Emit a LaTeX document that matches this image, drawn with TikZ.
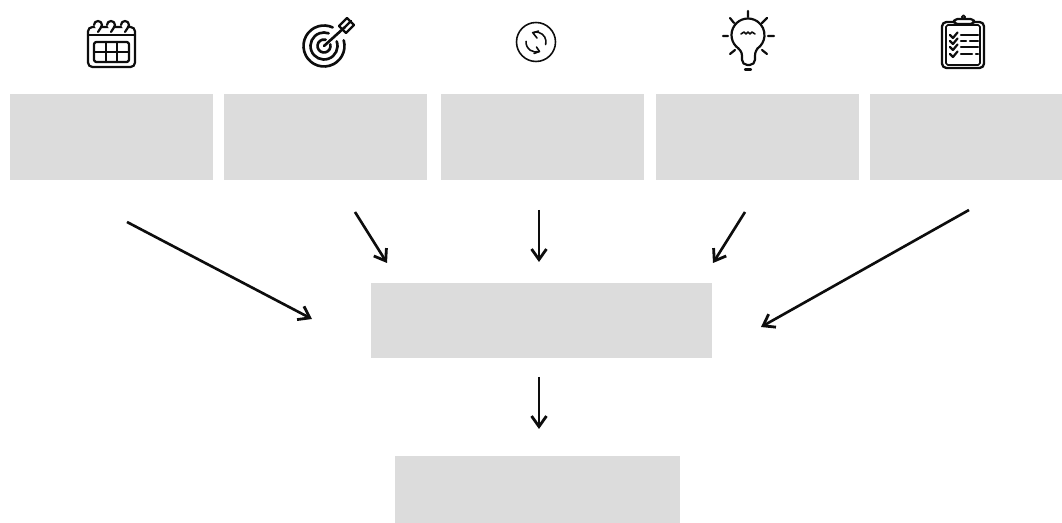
\documentclass[tikz,border=0pt]{standalone}
\usetikzlibrary{arrows.meta}
\definecolor{boxgrey}{HTML}{DCDCDC}
\tikzset{
  >={Straight Barb[length=6pt,width=8.5pt,line width=1.6pt]},
  topbox/.style={fill=boxgrey, inner sep=0pt, minimum width=4.06cm, minimum height=1.72cm},
  flow/.style={->, line width=1.5pt, black!95},
  iconline/.style={draw=black!95, line width=1.25pt, line cap=round, line join=round},
  thinline/.style={iconline, line width=0.9pt},
}

\begin{document}
\begin{tikzpicture}[x=0.02cm, y=-0.02cm]
    \useasboundingbox (0,0) rectangle (1062,523);
    % grey boxes
    \node[topbox] (box1) at (111.5,137) {};
    \node[topbox] (box2) at (325.5,137) {};
    \node[topbox] (box3) at (542.5,137) {};
    \node[topbox] (box4) at (757.5,137) {};
    \node[topbox, minimum width=3.86cm] (box5) at (966,137) {};
    \node[topbox, minimum width=6.82cm, minimum height=1.5cm] (hub) at (541.5,320.5) {};
    \node[topbox, minimum width=5.7cm, minimum height=1.34cm] (result) at (537.5,489.5) {};
    % arrow ends
    \coordinate (from1) at (127,222);
    \coordinate (to1)   at (312,319);
    \coordinate (from2) at (355,212);
    \coordinate (to2)   at (387,263);
    \coordinate (from3) at (539,210);
    \coordinate (to3)   at (539,262);
    \coordinate (from4) at (745,212);
    \coordinate (to4)   at (713,263);
    \coordinate (from5) at (969,210);
    \coordinate (to5)   at (761,327);
    \coordinate (from6) at (539,377);
    \coordinate (to6)   at (539,429);
    \foreach \i in {1,...,6}
      \draw[flow] (from\i) -- (to\i);
    % calendar
    \draw[iconline, rounded corners=2.5pt] (88,27) rectangle (135,67);
    \draw[iconline] (88,35) -- (135,35);
    \draw[iconline, rounded corners=1pt] (94,42) rectangle (129,62);
    \draw[iconline] (94,52) -- (129,52) (106,42) -- (106,62) (117,42) -- (117,62);
    \foreach \rx in {98,111,125}
      \draw[iconline, fill=white] (\rx-4,25) arc[start angle=180, end angle=410, radius=4] -- (\rx,32);
    % target
    \draw[iconline, line width=1.5pt] (324,46) ++(-16:20.5) arc[start angle=-16, end angle=295, radius=20.5];
    \draw[iconline, line width=1.5pt] (324,46) ++(-20:13.5) arc[start angle=-20, end angle=290, radius=13.5];
    \draw[iconline, line width=1.5pt] (324,46) ++(-15:6.5) arc[start angle=-15, end angle=285, radius=6.5];
    \draw[iconline, line width=1.5pt] (324,46) -- (345,27);
    \draw[iconline, line width=1.4pt] (339,26) -- (347,18) -- (354,25) -- (346,33) -- cycle (345,27) -- (351,21);
    % sync
    \draw[thinline] (536,42) circle[radius=19.5];
    \draw[thinline] (536,42) ++(15:10) arc[start angle=15, end angle=-110, radius=10];
    \draw[thinline] (538.5,31) -- (533,33) -- (537,38);
    \draw[thinline] (536,42) ++(184:10) arc[start angle=184, end angle=72, radius=10];
    \draw[thinline] (534,53.5) -- (539.5,51.5) -- (536.5,47);
    % bulb
    \draw[iconline] (748,35) ++(125:16.5) arc[start angle=125, end angle=415, radius=16.5]
      .. controls (755,52) and (755,54) .. (755,58);
    \draw[iconline] (738.5,48.5) .. controls (742,52) and (742,54) .. (742,58);
    \draw[iconline, rounded corners=3pt] (742,58) -- (742,65) -- (755,65) -- (755,58);
    \draw[iconline] (745,69.5) -- (751,69.5);
    \draw[thinline] (741,34) -- (744,32) -- (746,34) -- (748,32) -- (750,34) -- (752,32) -- (755,34);
    \draw[iconline] (748,11) -- (748,17) (723,36) -- (728,36) (768,36) -- (774,36)
      (730,18) -- (734,23) (767,18) -- (762,23) (730,54) -- (735,50) (767,54) -- (762,50);
    % clipboard
    \draw[iconline, line width=1.3pt, rounded corners=2.5pt] (942,22) rectangle (984,68);
    \draw[thinline, rounded corners=1pt] (946,25) rectangle (980,65);
    \draw[iconline, fill=white, rounded corners=2pt] (954,24) -- (954,19) -- (974,19) -- (974,24) -- cycle;
    \draw[thinline] (963.5,17) circle[radius=1.8];
    \foreach \cy in {35,41,47,54}
      \draw[iconline] (950,\cy) -- (953,\cy+3) -- (957.5,\cy-2.5);
    \draw[iconline] (961,35) -- (978,35) (961,41) -- (966,41) (970,41) -- (978,41)
      (961,47) -- (978,47) (961,54) -- (972,54) (976,54) -- (978,54);
\end{tikzpicture}
\end{document}
